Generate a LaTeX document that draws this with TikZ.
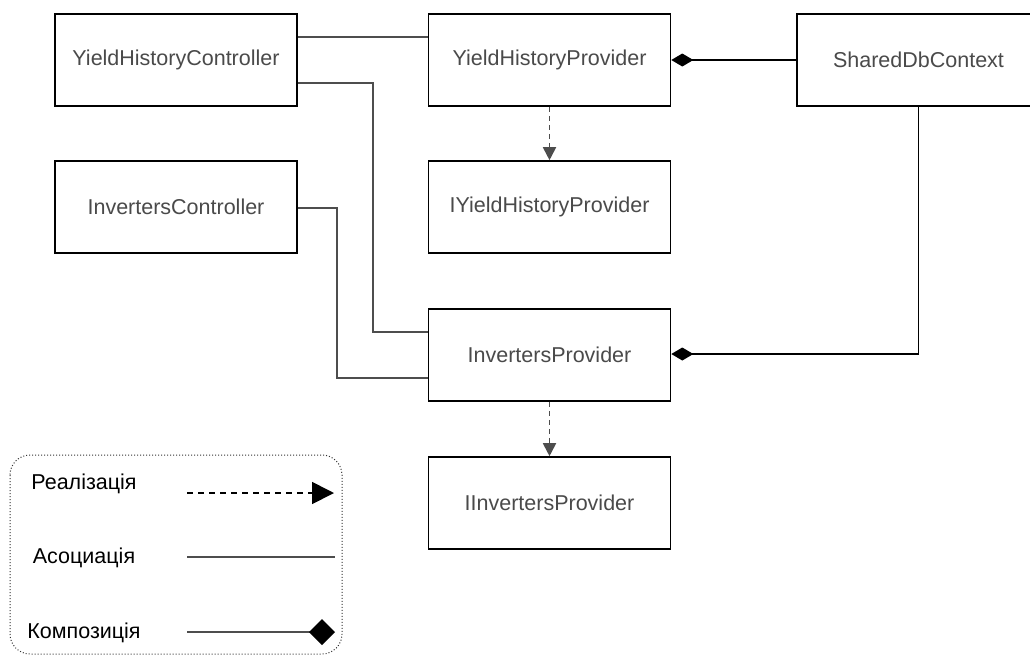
\documentclass[tikz,border=0pt]{standalone}
\usepackage{fontspec}
\setmainfont{Liberation Sans}
\usetikzlibrary{arrows.meta,calc}
\definecolor{linec}{HTML}{4D4D4D}
\definecolor{txtc}{HTML}{4A4A4A}
\tikzset{
  cls/.style={draw=black, line width=1.6pt, fill=white, minimum width=242pt, minimum height=92pt,
    inner sep=0pt, text=txtc, font=\fontsize{21.5}{26}\selectfont},
  assoc/.style={draw=linec, line width=1.8pt},
  realiz/.style={draw=linec, line width=1.8pt, dash pattern=on 5pt off 4pt,
    -{Triangle[length=13pt,width=13pt]}},
  compo/.style={draw=black, line width=1.6pt, {Diamond[length=22pt,width=13pt]}-},
  legtxt/.style={text=black, font=\fontsize{21.5}{26}\selectfont, inner sep=0pt},
}
\begin{document}
\begin{tikzpicture}[x=1pt,y=-1pt]
\useasboundingbox (0,0) rectangle (1030,657);
% classes
\node[cls] (YHC) at (176,60) {YieldHistoryController};
\node[cls] (YHP) at (549.5,60) {YieldHistoryProvider};
\node[cls, minimum width=243pt] (SDB) at (918.5,60) {SharedDbContext};
\node[cls] (IYHP) at (549.5,207) {IYieldHistoryProvider};
\node[cls] (IC) at (176,207) {InvertersController};
\node[cls] (IP) at (549.5,355) {InvertersProvider};
\node[cls] (IIP) at (549.5,503) {IInvertersProvider};
% associations
\draw[assoc] ([yshift=23pt]YHC.east) -- ([yshift=23pt]YHC.east -| YHP.west);
\draw[assoc] ([yshift=-23pt]YHC.east) -| (373,332) -- ([yshift=23pt]IP.west);
\draw[assoc] ([yshift=-1pt]IC.east) -| (337,378) -- ([yshift=-23pt]IP.west);
% compositions
\draw[compo] (YHP.east) -- (SDB.west);
\draw[compo] ([yshift=1pt]IP.east) -| (SDB.south);
% realizations
\draw[realiz] (YHP.south) -- (IYHP.north);
\draw[realiz] (IP.south) -- (IIP.north);
% legend
\draw[black!80, line width=1pt, dotted, rounded corners=20pt] (10,455) rectangle (342,654);
\node[legtxt] (l1) at (84,484) {Реалізація};
\node[legtxt] (l2) at (84,558) {Асоциація};
\node[legtxt] (l3) at (84,633) {Композиція};
\coordinate (a1) at (187,493);
\coordinate (b1) at (334,493);
\coordinate (a2) at (187,557);
\coordinate (b2) at (335,557);
\coordinate (a3) at (187,632);
\coordinate (b3) at (335,632);
\draw[black, line width=1.8pt, dash pattern=on 6pt off 5pt, -{Triangle[length=22pt,width=22pt]}] (a1) -- (b1);
\draw[linec, line width=2pt] (a2) -- (b2);
\draw[linec, line width=2pt, -{Diamond[length=26pt,width=26pt,fill=black,color=black]}] (a3) -- (b3);
\end{tikzpicture}
\end{document}
